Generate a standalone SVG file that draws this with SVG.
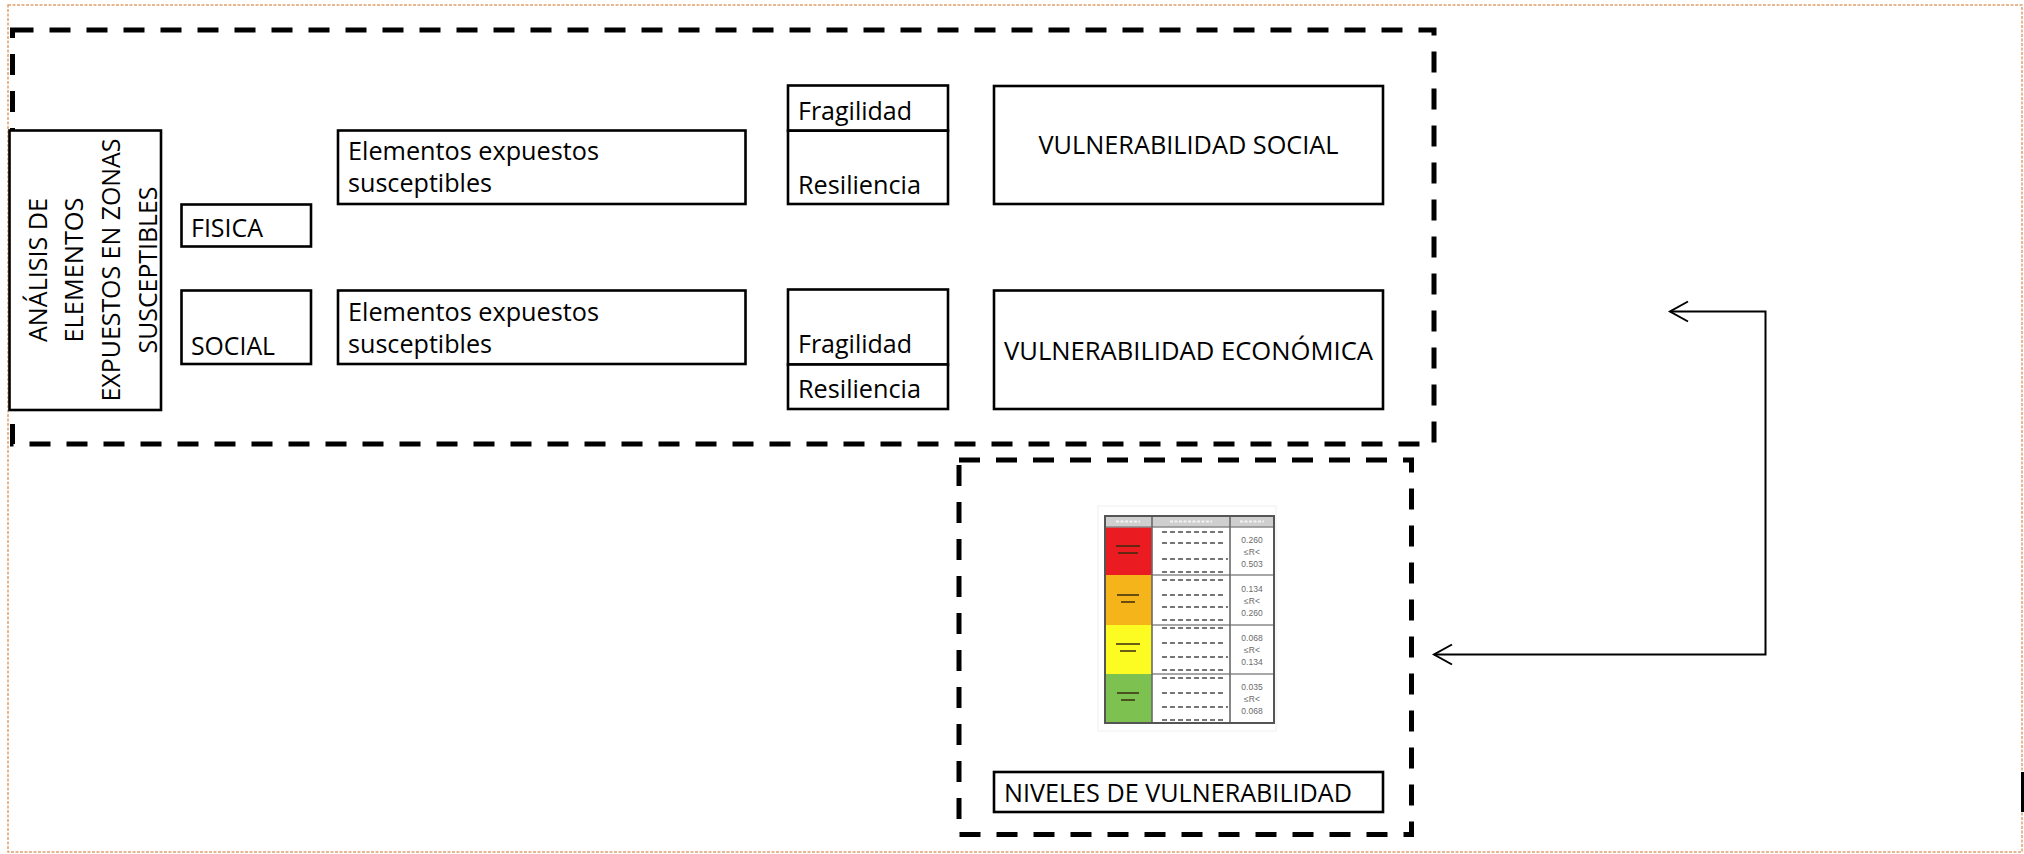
<svg xmlns="http://www.w3.org/2000/svg" width="2024" height="854" viewBox="0 0 2024 854">
<style>
.box{fill:#fff;stroke:#000;stroke-width:2.6}
.cont{fill:none;stroke:#000;stroke-width:5;stroke-dasharray:21 16}
.t{font-family:"Open Sans","Noto Sans","Liberation Sans",sans-serif;font-size:26px;fill:#000}
.num{font-family:"Liberation Sans","DejaVu Sans",sans-serif;font-size:8.5px;fill:#6a6a6a;text-anchor:middle}
.desc{stroke:#4a4a4a;stroke-width:1.6;stroke-dasharray:5 3;fill:none}
.lbl{stroke:#3a2a10;stroke-width:2;fill:none;opacity:.75}
.sep{stroke:#8a8a8a;stroke-width:1.4;fill:none}
</style>
<defs>
<marker id="arr" markerUnits="userSpaceOnUse" markerWidth="26" markerHeight="26" viewBox="-22 -13 26 26" refX="0" refY="0" orient="auto-start-reverse" overflow="visible">
<path d="M-18,-10 L0,0 L-18,10" fill="none" stroke="#000" stroke-width="2"/>
</marker>
</defs>
<rect width="2024" height="854" fill="#fff"/>
<rect x="8" y="5" width="2014" height="847" fill="none" stroke="#DFA06E" stroke-width="1.5" stroke-dasharray="3 1.5"/>
<rect x="2021" y="772" width="3" height="40" fill="#000"/>

<g id="container-analisis">
<rect class="cont" x="12.5" y="30" width="1421.5" height="414"/>
</g>
<g id="container-niveles">
<rect class="cont" x="959" y="460" width="452.5" height="374.5"/>
</g>

<g id="node-analisis">
<rect class="box" x="9.5" y="130.5" width="151.5" height="279.5"/>
<g class="t" text-anchor="middle">
<text transform="translate(47,270) rotate(-90)" textLength="144" lengthAdjust="spacingAndGlyphs">ANÁLISIS DE</text>
<text transform="translate(83,270) rotate(-90)" textLength="145" lengthAdjust="spacingAndGlyphs">ELEMENTOS</text>
<text transform="translate(120,270) rotate(-90)" textLength="263" lengthAdjust="spacingAndGlyphs">EXPUESTOS EN ZONAS</text>
<text transform="translate(157,270) rotate(-90)" textLength="167" lengthAdjust="spacingAndGlyphs">SUSCEPTIBLES</text>
</g>
</g>

<g id="node-fisica">
<rect class="box" x="181.5" y="204.5" width="129.5" height="42"/>
<text class="t" x="191" y="237" textLength="72" lengthAdjust="spacingAndGlyphs">FISICA</text>
</g>
<g id="node-social">
<rect class="box" x="181.5" y="290.5" width="129.5" height="73.5"/>
<text class="t" x="191" y="355" textLength="84" lengthAdjust="spacingAndGlyphs">SOCIAL</text>
</g>

<g id="node-elementos-1">
<rect class="box" x="338" y="130.5" width="407.5" height="73.5"/>
<text class="t" x="348" y="160" textLength="251" lengthAdjust="spacingAndGlyphs">Elementos expuestos</text>
<text class="t" x="348" y="192" textLength="144" lengthAdjust="spacingAndGlyphs">susceptibles</text>
</g>
<g id="node-elementos-2">
<rect class="box" x="338" y="290.5" width="407.5" height="73.5"/>
<text class="t" x="348" y="320.5" textLength="251" lengthAdjust="spacingAndGlyphs">Elementos expuestos</text>
<text class="t" x="348" y="352.5" textLength="144" lengthAdjust="spacingAndGlyphs">susceptibles</text>
</g>

<g id="node-fragilidad-1">
<rect class="box" x="788" y="85.5" width="160" height="45.2"/>
<text class="t" x="798" y="120" textLength="114" lengthAdjust="spacingAndGlyphs">Fragilidad</text>
</g>
<g id="node-resiliencia-1">
<rect class="box" x="788" y="130.7" width="160" height="73.3"/>
<text class="t" x="798" y="194" textLength="123" lengthAdjust="spacingAndGlyphs">Resiliencia</text>
</g>
<g id="node-fragilidad-2">
<rect class="box" x="788" y="289.5" width="160" height="75"/>
<text class="t" x="798" y="353" textLength="114" lengthAdjust="spacingAndGlyphs">Fragilidad</text>
</g>
<g id="node-resiliencia-2">
<rect class="box" x="788" y="364.5" width="160" height="44.5"/>
<text class="t" x="798" y="398" textLength="123" lengthAdjust="spacingAndGlyphs">Resiliencia</text>
</g>

<g id="node-vuln-social">
<rect class="box" x="994" y="86" width="389" height="118"/>
<text class="t" x="1188.5" y="154" text-anchor="middle" textLength="300" lengthAdjust="spacingAndGlyphs">VULNERABILIDAD SOCIAL</text>
</g>
<g id="node-vuln-economica">
<rect class="box" x="994" y="290.5" width="389" height="118.5"/>
<text class="t" x="1188.5" y="360" text-anchor="middle" textLength="369" lengthAdjust="spacingAndGlyphs">VULNERABILIDAD ECONÓMICA</text>
</g>

<g id="node-tabla-niveles">
<rect x="1098" y="506" width="178" height="225" fill="#fff" stroke="#f0f0f0" stroke-width="1"/>
<rect x="1105" y="516" width="169" height="11" fill="#cfcfcf"/>
<rect x="1105" y="527" width="47" height="48" fill="#EA1C22"/>
<rect x="1105" y="575" width="47" height="50" fill="#F5B419"/>
<rect x="1105" y="625" width="47" height="49" fill="#FCFB22"/>
<rect x="1105" y="674" width="47" height="49" fill="#7DC250"/>
<path class="sep" d="M1152,575 H1274 M1152,625 H1274 M1152,674 H1274 M1105,527 H1274"/>
<path d="M1152,516 V723 M1230,516 V723" stroke="#6a6a6a" stroke-width="1.6" fill="none"/>
<path d="M1116,521.5 H1140 M1170,521.5 H1212 M1240,521.5 H1264" stroke="#f4f4f4" stroke-width="2" stroke-dasharray="3 1.5" fill="none"/>
<path class="lbl" d="M1116,546 H1140 M1118,553 H1138 M1117,595 H1139 M1121,602 H1135 M1116,644 H1140 M1120,651 H1136 M1117,693 H1139 M1121,700 H1135"/>
<path class="desc" d="M1162,532 H1224 M1162,543 H1224 M1162,559 H1228 M1162,572 H1224 M1162,580 H1224 M1162,595 H1224 M1162,607 H1228 M1162,620 H1224 M1162,628 H1224 M1162,643 H1224 M1162,657 H1228 M1162,670 H1224 M1162,678 H1224 M1162,693 H1224 M1162,707 H1228 M1162,720 H1224"/>
<text class="num" x="1252" y="543">0.260</text>
<text class="num" x="1252" y="555">≤R&lt;</text>
<text class="num" x="1252" y="567">0.503</text>
<text class="num" x="1252" y="592">0.134</text>
<text class="num" x="1252" y="604">≤R&lt;</text>
<text class="num" x="1252" y="616">0.260</text>
<text class="num" x="1252" y="641">0.068</text>
<text class="num" x="1252" y="653">≤R&lt;</text>
<text class="num" x="1252" y="665">0.134</text>
<text class="num" x="1252" y="690">0.035</text>
<text class="num" x="1252" y="702">≤R&lt;</text>
<text class="num" x="1252" y="714">0.068</text>
<rect x="1105" y="516" width="169" height="207" fill="none" stroke="#555" stroke-width="2"/>
</g>

<g id="node-niveles">
<rect class="box" x="994" y="772" width="389" height="40"/>
<text class="t" x="1004" y="802" textLength="348" lengthAdjust="spacingAndGlyphs">NIVELES DE VULNERABILIDAD</text>
</g>

<g id="connectors">
<path d="M1670,311.5 H1765.5 V654.5 H1434" fill="none" stroke="#000" stroke-width="2" marker-start="url(#arr)" marker-end="url(#arr)"/>
</g>
</svg>
